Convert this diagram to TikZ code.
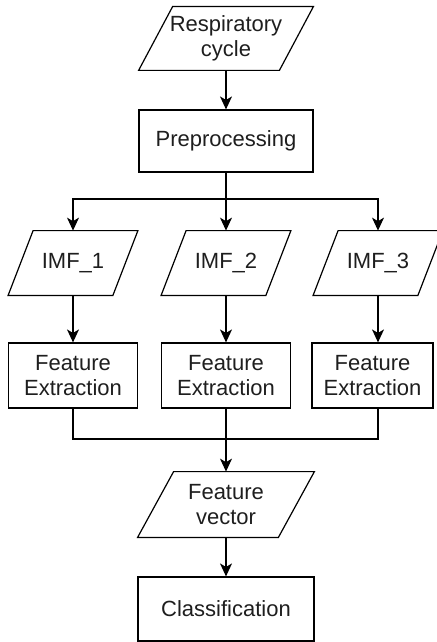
\documentclass[tikz,border=0pt]{standalone}
\usepackage{fontspec}
\setmainfont{Liberation Sans}
\usetikzlibrary{arrows.meta}
\definecolor{txt}{RGB}{30,30,30}
\tikzset{
  box/.style={draw, line width=0.6pt, align=center, inner sep=0pt, text=txt,
    font=\fontsize{11pt}{12.7pt}\selectfont},
  io/.style={align=center, inner sep=0pt, text=txt, font=\fontsize{11pt}{12.7pt}\selectfont},
  arr/.style={->, >={Stealth[length=6.5pt,width=6pt,inset=1.8pt]}, line width=0.6pt},
  ln/.style={line width=0.6pt}
}
\newcommand{\slantbox}[2]{\draw[ln] ([xshift=#2]#1.north west) -- ([xshift=#2]#1.north east) -- ([xshift=-#2]#1.south east) -- ([xshift=-#2]#1.south west) -- cycle;}
\begin{document}
\begin{tikzpicture}[x=0.5pt,y=-0.5pt]
  \useasboundingbox (0,0) rectangle (436,642);
  \node[io, minimum width=70pt, minimum height=31.5pt] (resp) at (226,38.5) {Respiratory\\cycle};
  \slantbox{resp}{8.5pt}
  \node[box, minimum width=87pt, minimum height=31pt] (prep) at (226,141) {Preprocessing};
  \node[io, minimum width=52pt, minimum height=32pt] (imf1) at (73,263) {IMF\_1};
  \node[io, minimum width=52pt, minimum height=32pt] (imf2) at (226,263) {IMF\_2};
  \node[io, minimum width=52pt, minimum height=32pt] (imf3) at (378,263) {IMF\_3};
  \slantbox{imf1}{6.25pt}
  \slantbox{imf2}{6.25pt}
  \slantbox{imf3}{6.25pt}
  \node[box, minimum width=64.5pt, minimum height=32.5pt] (fe1) at (73,375.5) {Feature\\Extraction};
  \node[box, minimum width=64.5pt, minimum height=32.5pt] (fe2) at (226,375.5) {Feature\\Extraction};
  \node[box, minimum width=60.5pt, minimum height=32.5pt] (fe3) at (372.5,375.5) {Feature\\Extraction};
  \node[io, minimum width=70pt, minimum height=32.5pt] (fvec) at (226,504.5) {Feature\\vector};
  \slantbox{fvec}{9pt}
  \node[box, minimum width=88pt, minimum height=32pt] (cls) at (226,609) {Classification};
  \coordinate (fork) at (226,199);
  \coordinate (merge) at (226,439);
  \draw[arr] (resp.south) -- (prep.north);
  \draw[arr] (prep.south) -- (fork) -| (imf1.north);
  \draw[arr] (fork) -- (imf2.north);
  \draw[arr] (fork) -| (imf3.north);
  \draw[arr] (imf1.south) -- (fe1.north);
  \draw[arr] (imf2.south) -- (fe2.north);
  \draw[arr] (imf3.south) -- (imf3.south |- fe3.north);
  \draw[ln] (fe1.south) |- (merge);
  \draw[ln] (fe3.south -| imf3.south) |- (merge);
  \draw[arr] (fe2.south) -- (fvec.north);
  \draw[arr] (fvec.south) -- (cls.north);
\end{tikzpicture}
\end{document}
